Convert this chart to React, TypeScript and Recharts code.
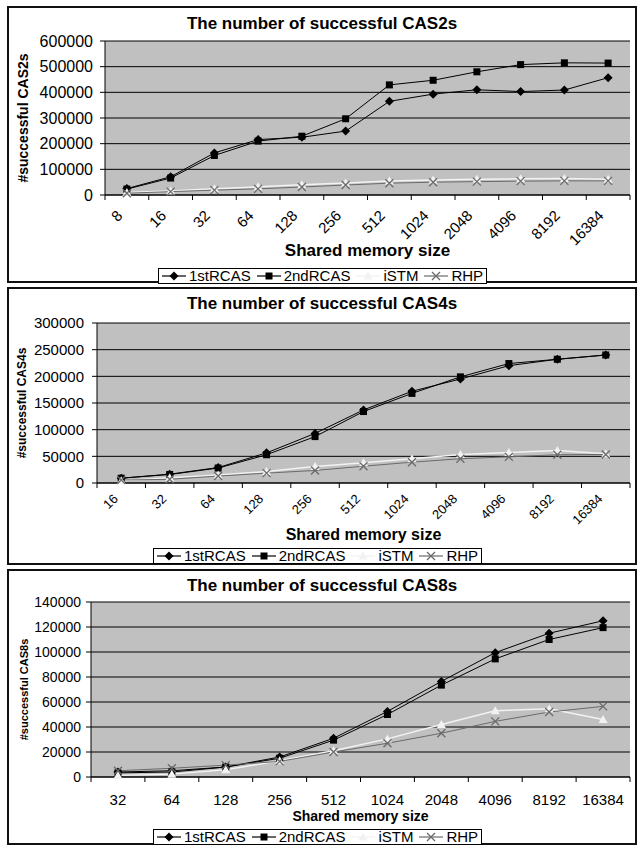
import React from "react";
import { CartesianGrid, Line, LineChart, XAxis, YAxis } from "recharts";

// --- CAS2 ---
const cas2Sizes = ["8", "16", "32", "64", "128", "256", "512", "1024", "2048", "4096", "8192", "16384"];
const cas2First = [25000, 71000, 164000, 216000, 225000, 249000, 365000, 393000, 410000, 403000, 409000, 457000];
const cas2Second = [23000, 66000, 154000, 210000, 229000, 297000, 429000, 447000, 480000, 508000, 515000, 514000];
const cas2Istm = [10000, 16000, 24000, 32000, 40000, 47000, 55000, 58000, 61000, 63000, 64000, 61000];
const cas2Rhp = [7000, 13000, 19000, 24000, 31000, 39000, 46000, 50000, 52000, 54000, 55000, 55000];
const cas2Ticks = [0, 100000, 200000, 300000, 400000, 500000, 600000];

// --- CAS4 ---
const cas4Sizes = ["16", "32", "64", "128", "256", "512", "1024", "2048", "4096", "8192", "16384"];
const cas4First = [9000, 16500, 29000, 56500, 93000, 137000, 172000, 195000, 220000, 232000, 240000];
const cas4Second = [9000, 16000, 28000, 53000, 87000, 134000, 168000, 199000, 224000, 232000, 240000];
const cas4Istm = [4000, 10000, 15000, 21500, 31000, 38000, 45500, 53500, 57000, 61000, 55000];
const cas4Rhp = [5500, 7000, 13000, 18500, 23500, 31500, 39000, 45500, 49000, 53000, 53500];
const cas4Ticks = [0, 50000, 100000, 150000, 200000, 250000, 300000];

// --- CAS8 ---
const cas8Sizes = ["32", "64", "128", "256", "512", "1024", "2048", "4096", "8192", "16384"];
const cas8First = [4000, 5000, 8000, 16000, 31000, 52500, 76500, 99500, 115000, 125000];
const cas8Second = [3300, 4000, 8000, 15000, 29500, 50000, 73500, 94500, 110000, 119500];
const cas8Istm = [1300, 2300, 5800, 13000, 21000, 30500, 42000, 53000, 54500, 46000];
const cas8Rhp = [5000, 7000, 9500, 12500, 20000, 27000, 35000, 44500, 52000, 56500];
const cas8Ticks = [0, 20000, 40000, 60000, 80000, 100000, 120000, 140000];

const FONT = "Arial, 'Liberation Sans', sans-serif";

type Shape = "diamond" | "square" | "triangle" | "cross";
const SERIES: { key: string; name: string; color: string; shape: Shape; width: number }[] = [
  { key: "first", name: "1stRCAS", color: "#000", shape: "diamond", width: 1 },
  { key: "second", name: "2ndRCAS", color: "#000", shape: "square", width: 1 },
  { key: "istm", name: "iSTM", color: "#f2f2f2", shape: "triangle", width: 1.5 },
  { key: "rhp", name: "RHP", color: "#6a6a6a", shape: "cross", width: 1 },
];

function Marker({ cx, cy, shape, color }: { cx?: number; cy?: number; shape: Shape; color: string }) {
  if (cx == null || cy == null) return null;
  if (shape === "diamond")
    return <polygon points={`${cx},${cy - 4.5} ${cx + 4.5},${cy} ${cx},${cy + 4.5} ${cx - 4.5},${cy}`} fill={color} />;
  if (shape === "square") return <rect x={cx - 3.5} y={cy - 3.5} width={7} height={7} fill={color} />;
  if (shape === "triangle")
    return <polygon points={`${cx},${cy - 4.5} ${cx + 4.5},${cy + 3.5} ${cx - 4.5},${cy + 3.5}`} fill={color} />;
  return (
    <path d={`M${cx - 4},${cy - 4}L${cx + 4},${cy + 4}M${cx - 4},${cy + 4}L${cx + 4},${cy - 4}`} stroke={color} strokeWidth={1.3} fill="none" />
  );
}

const build = (sizes: string[], first: number[], second: number[], istm: number[], rhp: number[]) =>
  sizes.map((size, i) => ({ size, first: first[i], second: second[i], istm: istm[i], rhp: rhp[i] }));

function LegendBox({ left, top, fontSize }: { left: number; top: number; fontSize: number }) {
  return (
    <div
      style={{
        position: "absolute", left, top, height: 14, border: "1px solid #000", background: "#fff",
        display: "flex", alignItems: "center", padding: "0 3px", fontFamily: FONT, fontSize,
        lineHeight: "14px", whiteSpace: "nowrap", color: "#000",
      }}
    >
      {SERIES.map((s, i) => (
        <span key={s.key} style={{ display: "inline-flex", alignItems: "center", marginLeft: i ? 6 : 0 }}>
          <svg width={24} height={12} style={{ display: "block" }}>
            <line x1={0} x2={24} y1={6} y2={6} stroke={s.color} strokeWidth={1.2} />
            <Marker cx={12} cy={6} shape={s.shape} color={s.color} />
          </svg>
          <span style={{ marginLeft: 3 }}>{s.name}</span>
        </span>
      ))}
    </div>
  );
}

type PanelProps = {
  title: string;
  yLabel: string;
  data: ReturnType<typeof build>;
  ticks: number[];
  top: number;
  height: number;
  plotLeft: number;
  plotTop: number;
  plotBottom: number;
  titleY: number;
  yTickFont: number;
  yTickMargin: number;
  yLabelX: number;
  yLabelFont: number;
  xTickFont: number;
  xTickDx: number;
  xTickDy: number;
  rotated: boolean;
  xTitleFont: number;
  xTitleBaseline: number;
  legendLeft: number;
  legendTop: number;
};

const PLOT_RIGHT = 630;
const PAGE_W = 637;

function Panel(p: PanelProps) {
  const n = p.data.length;
  const bw = (PLOT_RIGHT - p.plotLeft) / n;
  const xAxisH = p.top + p.height - p.plotBottom;

  const XTick = (props: any) => {
    const { x, y, payload, index } = props;
    const ax = x + p.xTickDx;
    const ay = y + p.xTickDy;
    return (
      <g>
        <line x1={x - bw / 2} x2={x - bw / 2} y1={y} y2={y + 5} stroke="#000" />
        {index === n - 1 && <line x1={x + bw / 2} x2={x + bw / 2} y1={y} y2={y + 5} stroke="#000" />}
        {p.rotated ? (
          <text
            x={ax}
            y={ay}
            dy="0.72em"
            textAnchor="end"
            transform={`rotate(-45 ${ax} ${ay})`}
            fontSize={p.xTickFont}
            fontFamily={FONT}
            fill="#000"
          >
            {payload.value}
          </text>
        ) : (
          <text x={ax} y={ay} textAnchor="middle" fontSize={p.xTickFont} fontFamily={FONT} fill="#000">
            {payload.value}
          </text>
        )}
      </g>
    );
  };

  return (
    <>
      <div
        style={{
          position: "absolute", left: 7, top: p.top, width: PAGE_W - 7, height: p.height,
          border: "2px solid #111", boxSizing: "border-box",
        }}
      />
      <div
        style={{
          position: "absolute", left: 7, width: PAGE_W - 7, top: p.titleY - 10, height: 20, lineHeight: "20px",
          textAlign: "center", fontFamily: FONT, fontWeight: "bold", fontSize: 17, color: "#000",
        }}
      >
        {p.title}
      </div>
      <div style={{ position: "absolute", left: 0, top: p.top }}>
        <LineChart
          width={PAGE_W}
          height={p.height}
          data={p.data}
          margin={{ top: p.plotTop - p.top, right: PAGE_W - PLOT_RIGHT, bottom: 0, left: 0 }}
        >
          <CartesianGrid yAxisId="left" vertical={false} stroke="#000" fill="#c0c0c0" fillOpacity={1} />
          <XAxis
            dataKey="size"
            interval={0}
            padding={{ left: bw / 2, right: bw / 2 }}
            height={xAxisH}
            tickLine={false}
            tickSize={0}
            tickMargin={0}
            axisLine={{ stroke: "#000" }}
            tick={XTick}
            label={{
              value: "Shared memory size",
              position: "insideBottom",
              offset: p.top + p.height - p.xTitleBaseline,
              style: { fontFamily: FONT, fontWeight: "bold", fontSize: p.xTitleFont, fill: "#000" },
            }}
          />
          <YAxis
            yAxisId="left"
            width={p.plotLeft}
            domain={[0, p.ticks[p.ticks.length - 1]]}
            ticks={p.ticks}
            interval={0}
            tickSize={5}
            tickMargin={p.yTickMargin}
            axisLine={{ stroke: "#000" }}
            tickLine={{ stroke: "#000" }}
            tick={{ fontSize: p.yTickFont, fontFamily: FONT, fill: "#000" }}
            label={{
              value: p.yLabel,
              angle: -90,
              position: "insideLeft",
              offset: p.yLabelX,
              style: { textAnchor: "middle", fontFamily: FONT, fontWeight: "bold", fontSize: p.yLabelFont, fill: "#000" },
            }}
          />
          <YAxis yAxisId="right" orientation="right" width={0} tick={false} tickLine={false} axisLine={{ stroke: "#808080" }} />
          {SERIES.map((s) => (
            <Line
              key={s.key}
              yAxisId="left"
              type="linear"
              dataKey={s.key}
              name={s.name}
              stroke={s.color}
              strokeWidth={s.width}
              isAnimationActive={false}
              dot={(d: any) => <Marker key={`${s.key}-${d.index}`} cx={d.cx} cy={d.cy} shape={s.shape} color={s.color} />}
              activeDot={false}
            />
          ))}
        </LineChart>
      </div>
      <LegendBox left={p.legendLeft} top={p.legendTop} fontSize={15} />
    </>
  );
}

export default function App() {
  return (
    <div style={{ position: "absolute", left: 0, top: 0, width: PAGE_W, height: 848, background: "#fff" }}>
      <Panel
        title="The number of successful CAS2s"
        yLabel="#successful CAS2s"
        data={build(cas2Sizes, cas2First, cas2Second, cas2Istm, cas2Rhp)}
        ticks={cas2Ticks}
        top={6}
        height={277}
        plotLeft={105}
        plotTop={41}
        plotBottom={195}
        titleY={24}
        yTickFont={16}
        yTickMargin={7}
        yLabelX={23}
        yLabelFont={14}
        xTickFont={15}
        xTickDx={-11}
        xTickDy={14}
        rotated
        xTitleFont={17}
        xTitleBaseline={256}
        legendLeft={158}
        legendTop={268}
      />
      <Panel
        title="The number of successful CAS4s"
        yLabel="#successful CAS4s"
        data={build(cas4Sizes, cas4First, cas4Second, cas4Istm, cas4Rhp)}
        ticks={cas4Ticks}
        top={287}
        height={278}
        plotLeft={97}
        plotTop={323}
        plotBottom={483}
        titleY={304}
        yTickFont={15}
        yTickMargin={8}
        yLabelX={22}
        yLabelFont={12}
        xTickFont={13}
        xTickDx={-9}
        xTickDy={10}
        rotated
        xTitleFont={16}
        xTitleBaseline={540}
        legendLeft={153}
        legendTop={548}
      />
      <Panel
        title="The number of successful CAS8s"
        yLabel="#successful CAS8s"
        data={build(cas8Sizes, cas8First, cas8Second, cas8Istm, cas8Rhp)}
        ticks={cas8Ticks}
        top={569}
        height={276}
        plotLeft={91}
        plotTop={602}
        plotBottom={777}
        titleY={586}
        yTickFont={14}
        yTickMargin={5}
        yLabelX={24}
        yLabelFont={11}
        xTickFont={15}
        xTickDx={0}
        xTickDy={28}
        rotated={false}
        xTitleFont={14}
        xTitleBaseline={821}
        legendLeft={153}
        legendTop={829}
      />
    </div>
  );
}
